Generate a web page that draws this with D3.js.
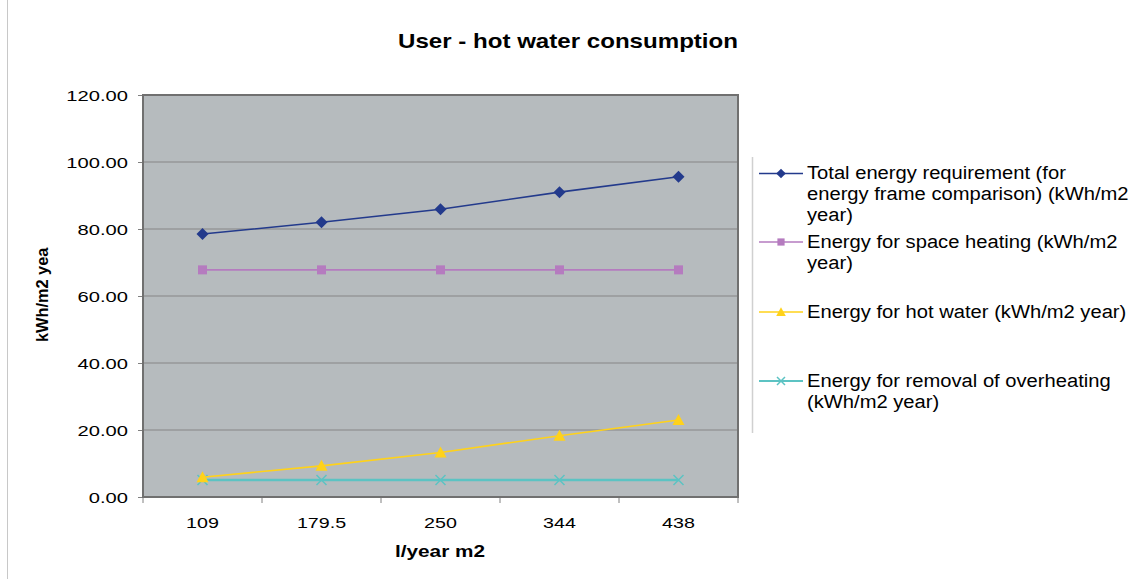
<!DOCTYPE html>
<html><head><meta charset="utf-8">
<script src="https://cdn.jsdelivr.net/npm/d3@7"></script>
<style>body{margin:0;background:#fff}svg{display:block;font-family:"Liberation Sans",Arial,sans-serif}</style>
</head><body><svg id="c" width="1132" height="579"></svg>
<script>
const categories = ["109","179.5","250","344","438"];
const totalEnergy = [78.5, 82.0, 85.9, 91.0, 95.6];
const spaceHeating = [67.8, 67.8, 67.8, 67.8, 67.8];
const hotWater = [5.9, 9.3, 13.3, 18.3, 23.0];
const overheating = [5.1, 5.1, 5.1, 5.1, 5.1];
const yTicks = [0,20,40,60,80,100,120];
const seriesNames = [
  ["Total energy requirement (for","energy frame comparison) (kWh/m2","year)"],
  ["Energy for space heating (kWh/m2","year)"],
  ["Energy for hot water (kWh/m2 year)"],
  ["Energy for removal of overheating","(kWh/m2 year)"]
];
const series = [
  {values: totalEnergy, color:"#233a8c", marker:"diamond"},
  {values: spaceHeating, color:"#b57bbf", marker:"square"},
  {values: hotWater, color:"#ffd21a", marker:"triangle"},
  {values: overheating, color:"#5cc3c3", marker:"x"}
];

function stretch(sel, f){
  sel.each(function(){
    const w=this.getComputedTextLength();
    this.setAttribute("textLength", w*f);
    this.setAttribute("lengthAdjust","spacingAndGlyphs");
  });
}

const svg = d3.select("#c");
const L=143,R=738,T=95,B=497;
const x = d3.scaleBand().domain(categories).range([L,R]);
const y = d3.scaleLinear().domain([0,120]).range([B,T]);

svg.append("line").attr("x1",7.5).attr("x2",7.5).attr("y1",0).attr("y2",579).attr("stroke","#c8c8c8");

svg.append("rect").attr("x",L).attr("y",T).attr("width",R-L).attr("height",B-T).attr("fill","#b6bbbe");
svg.append("g").selectAll("line").data(yTicks.filter(d=>d>0)).join("line")
  .attr("x1",L).attr("x2",R).attr("y1",d=>y(d)).attr("y2",d=>y(d)).attr("stroke","#858585").attr("stroke-width",1.2);

const ya = svg.append("g").attr("transform",`translate(${L},0)`)
  .call(d3.axisLeft(y).tickValues(yTicks).tickFormat(d3.format(".2f")).tickSize(5).tickPadding(10));
ya.select(".domain").remove();
ya.selectAll("line").attr("stroke","#808080");
ya.selectAll("text").attr("font-size",15.5).attr("fill","#000").attr("font-family","Liberation Sans, Arial").attr("dy","0.36em");
stretch(ya.selectAll("text"),1.3);

const xa = svg.append("g").attr("transform",`translate(0,${B})`)
  .call(d3.axisBottom(x).tickSize(0).tickPadding(20));
xa.select(".domain").remove();
xa.selectAll("text").attr("font-size",15.5).attr("fill","#000").attr("font-family","Liberation Sans, Arial");
stretch(xa.selectAll("text"),1.27);
const bounds = categories.map(c=>x(c)).concat([R]);
svg.append("g").selectAll("line").data(bounds).join("line")
  .attr("x1",d=>d).attr("x2",d=>d).attr("y1",B).attr("y2",B+6).attr("stroke","#808080");

svg.append("rect").attr("x",L).attr("y",T).attr("width",R-L).attr("height",B-T).attr("fill","none").attr("stroke","#707070").attr("stroke-width",2);

const cx = c=>x(c)+x.bandwidth()/2;
function drawMarker(g, type, color, px, py, s){
  s = s||1;
  if(type==="diamond") g.append("path").attr("d",`M${px},${py-6*s}L${px+6*s},${py}L${px},${py+6*s}L${px-6*s},${py}Z`).attr("fill",color);
  if(type==="square") g.append("rect").attr("x",px-4.5*s).attr("y",py-4.5*s).attr("width",9*s).attr("height",9*s).attr("fill",color);
  if(type==="triangle") g.append("path").attr("d",`M${px},${py-6*s}L${px+6*s},${py+5*s}L${px-6*s},${py+5*s}Z`).attr("fill",color);
  if(type==="x") g.append("path").attr("d",`M${px-5*s},${py-5*s}L${px+5*s},${py+5*s}M${px-5*s},${py+5*s}L${px+5*s},${py-5*s}`).attr("stroke",color).attr("stroke-width",1.5).attr("fill","none");
}
const line = d3.line().x((d,i)=>cx(categories[i])).y(d=>y(d));
series.slice().reverse().forEach(s=>{
  const g = svg.append("g");
  g.append("path").attr("d",line(s.values)).attr("fill","none").attr("stroke",s.color).attr("stroke-width",s.marker==="x"?2.5:1.6);
  s.values.forEach((v,i)=>drawMarker(g,s.marker,s.color,cx(categories[i]),y(v)));
});

svg.append("text").attr("x",568).attr("y",48).attr("text-anchor","middle").attr("font-weight","bold").attr("font-size",21)
  .attr("textLength",340).attr("lengthAdjust","spacingAndGlyphs").text("User - hot water consumption");
svg.append("text").attr("x",440).attr("y",557).attr("text-anchor","middle").attr("font-weight","bold").attr("font-size",17)
  .attr("textLength",90).attr("lengthAdjust","spacingAndGlyphs").text("l/year m2");
svg.append("clipPath").attr("id","yc").append("rect").attr("x",20).attr("y",247).attr("width",40).attr("height",110);
const yg = svg.append("g").attr("clip-path","url(#yc)");
const yt = yg.append("text").attr("transform","translate(48,342) rotate(-90)").attr("font-weight","bold").attr("font-size",17).attr("fill","#000").text("kWh/m2 year");
stretch(yt,0.96);

svg.append("line").attr("x1",752.5).attr("x2",752.5).attr("y1",157).attr("y2",433).attr("stroke","#d0d0d0").attr("stroke-width",1.5);
const legY = [173.5, 242, 312, 381];
seriesNames.forEach((lines,i)=>{
  const s = series[i], g = svg.append("g");
  g.append("line").attr("x1",759).attr("x2",803).attr("y1",legY[i]).attr("y2",legY[i]).attr("stroke",s.color).attr("stroke-width",s.marker==="x"?2:1.6);
  drawMarker(g,s.marker,s.color,781,legY[i],0.8);
  const tx = g.selectAll("text").data(lines).join("text").attr("x",807).attr("y",(t,j)=>legY[i]+5.5+j*21).attr("font-size",18).attr("fill","#000").text(t=>t);
  stretch(tx,1.12);
});
</script></body></html>
